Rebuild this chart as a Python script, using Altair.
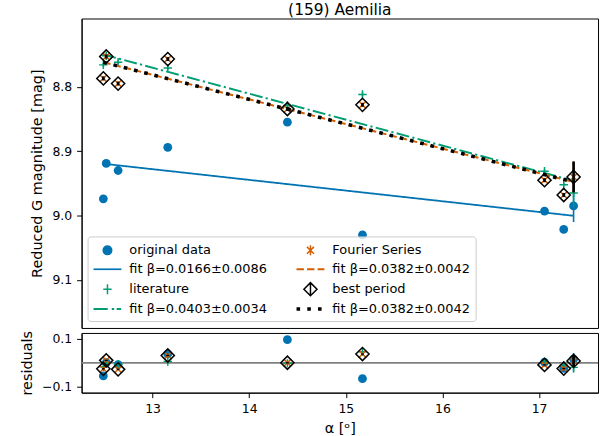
import altair as alt
import numpy as np
import pandas as pd

# Phase angle of each observation [deg]
alpha = [12.49, 12.52, 12.643, 13.157, 14.395, 15.172, 17.056, 17.255, 17.357]

# Reduced G magnitudes and uncertainties for each method
mag_original = [8.974, 8.919, 8.930, 8.894, 8.855, 9.030, 8.993, 9.0215, 8.985]
err_original = [0.004, 0.004, 0.004, 0.004, 0.004, 0.004, 0.004, 0.004, 0.025]
mag_literature = [8.766, 8.752, 8.762, 8.771, 8.829, 8.812, 8.931, 8.952, 8.965]
err_literature = [0.003, 0.003, 0.003, 0.003, 0.003, 0.003, 0.003, 0.003, 0.022]
mag_fourier = [8.787, 8.753, 8.795, 8.757, 8.8345, 8.828, 8.945, 8.968, 8.940]
err_fourier = [0.003, 0.003, 0.003, 0.003, 0.003, 0.003, 0.003, 0.003, 0.024]
mag_best = [8.787, 8.753, 8.795, 8.757, 8.8345, 8.828, 8.945, 8.968, 8.940]
err_best = [0.003, 0.003, 0.003, 0.003, 0.003, 0.003, 0.003, 0.003, 0.024]

# Linear phase coefficients of the fits
beta_original = 0.0166
beta_literature = 0.0403
beta_fourier = 0.0382
beta_best = 0.0382

BLUE = "#0173B2"
GREEN = "#029E73"
ORANGE = "#D55E00"
BLACK = "#000000"
FONT = "DejaVu Sans"


def fit_frames(mags, errs, beta):
    a = np.asarray(alpha, dtype=float)
    m = np.asarray(mags, dtype=float)
    e = np.asarray(errs, dtype=float)
    c = m.mean() - beta * a.mean()
    model = c + beta * a
    pts = pd.DataFrame({
        "alpha": a, "mag": m, "lo": m - e, "hi": m + e,
        "res": model - m, "rlo": model - m - e, "rhi": model - m + e,
    })
    ends = np.array([a.min(), a.max()])
    line = pd.DataFrame({"alpha": ends, "mag": c + beta * ends})
    return pts, line


x_scale = alt.Scale(domain=[12.265, 17.61], nice=False, zero=False)
y_top_scale = alt.Scale(domain=[8.694, 9.1745], reverse=True, nice=False, zero=False)
y_res_scale = alt.Scale(domain=[-0.124, 0.124], nice=False, zero=False)

x_top = alt.X("alpha:Q", scale=x_scale, axis=None)
x_bot = alt.X("alpha:Q", scale=x_scale,
              axis=alt.Axis(values=[13, 14, 15, 16, 17], format="d", title="α [ᵒ]"))
y_top = alt.Y("mag:Q", scale=y_top_scale,
              axis=alt.Axis(values=[8.8, 8.9, 9.0, 9.1], format=".1f",
                            title="Reduced G magnitude [mag]"))
y_res = alt.Y("res:Q", scale=y_res_scale,
              axis=alt.Axis(values=[-0.1, 0.0, 0.1], format=".1f", title="residuals"))

X_PATH = "M-1,-1L1,1M-1,1L1,-1"
PLUS_PATH = "M-1,0L1,0M0,-1L0,1"

series = [
    # mags, errs, beta, colour, shape, size, filled, bar width, dash, line width
    (mag_original, err_original, beta_original, BLUE, "circle", 78, True, 1.6, [1, 0], 1.8),
    (mag_literature, err_literature, beta_literature, GREEN, PLUS_PATH, 72, False, 1.5, [13, 3.3, 2.2, 3.3], 2.0),
    (mag_fourier, err_fourier, beta_fourier, ORANGE, X_PATH, 56, False, 1.5, [7.4, 3.2], 2.0),
    (mag_best, err_best, beta_best, BLACK, "diamond", 176, False, 2.7, [3.6, 7.0], 3.6),
]

top_layers = []
res_layers = []
zero = alt.Chart(pd.DataFrame({"res": [0.0]})).mark_rule(color="#808080", strokeWidth=1.8).encode(y=y_res)
res_layers.append(zero)

for mags, errs, beta, col, shape, size, filled, bw, dash, lw in series:
    pts, line = fit_frames(mags, errs, beta)
    base = alt.Chart(pts)
    top_layers.append(base.mark_rule(color=col, strokeWidth=bw).encode(
        x=x_top, y=alt.Y("lo:Q", scale=y_top_scale), y2="hi:Q"))
    top_layers.append(base.mark_point(shape=shape, size=size, filled=filled, color=col,
                                      opacity=1, strokeWidth=1.5).encode(x=x_top, y=y_top))
    top_layers.append(alt.Chart(line).mark_line(color=col, strokeWidth=lw, strokeDash=dash).encode(
        x=x_top, y=y_top))
    res_layers.append(base.mark_rule(color=col, strokeWidth=bw).encode(
        x=x_bot, y=alt.Y("rlo:Q", scale=y_res_scale), y2="rhi:Q"))
    res_layers.append(base.mark_point(shape=shape, size=size, filled=filled, color=col,
                                      opacity=1, strokeWidth=1.5).encode(x=x_bot, y=y_res))

# Legend entries, listed column by column (two columns)
legend_keys = ["orig", "fit_orig", "lit", "fit_lit", "four", "fit_four", "best", "fit_best"]
legend_text = ["original data", "fit β=0.0166±0.0086",
               "literature", "fit β=0.0403±0.0034",
               "Fourier Series", "fit β=0.0382±0.0042",
               "best period", "fit β=0.0382±0.0042"]
legend_fill = [BLUE, BLUE, "transparent", GREEN, "transparent", ORANGE, "transparent", BLACK]
legend_stroke = [BLUE, "transparent", GREEN, "transparent", ORANGE, "transparent", BLACK, "transparent"]
# legend glyphs: 1 unit = 7 px, handle spans x in [-1, 3], marker centred at x = 1
legend_shape = [
    "M0.386,0A0.614,0.614 0 1,0 1.614,0A0.614,0.614 0 1,0 0.386,0Z M1,-0.72L1,0.72",
    "M-1,-0.12H3V0.12H-1Z",
    "M0.4,0L1.6,0M1,-0.72L1,0.72",
    "M-1,-0.14H1.04V0.14H-1Z M1.62,-0.14H1.96V0.14H1.62Z M2.32,-0.14H2.96V0.14H2.32Z",
    "M0.5,-0.5L1.5,0.5M0.5,0.5L1.5,-0.5M1,-0.72L1,0.72",
    "M-1,-0.14H0.058V0.14H-1Z M0.514,-0.14H1.572V0.14H0.514Z M2.028,-0.14H3V0.14H2.028Z",
    "M0.06,0L1,-0.94L1.94,0L1,0.94Z M1,-0.94L1,0.94",
    "M-1,-0.26H-0.486V0.26H-1Z M0.542,-0.26H1.058V0.26H0.542Z M2.086,-0.26H2.6V0.26H2.086Z",
]
label_expr = "".join(
    f"datum.value == '{k}' ? '{t}' : " for k, t in zip(legend_keys, legend_text)
) + "''"

legend = alt.Legend(
    title=None, orient="none", legendX=6, legendY=219, columns=2, columnPadding=26,
    rowPadding=0, gridAlign="all", symbolSize=196, symbolStrokeWidth=1.5, symbolOpacity=1,
    labelFont=FONT, labelFontSize=13, labelOffset=21, labelLimit=400, labelColor="black",
    padding=5, strokeColor="#cccccc", fillColor="rgba(255,255,255,0.8)", cornerRadius=3,
    labelExpr=label_expr,
)
legend_layer = alt.Chart(pd.DataFrame({"entry": legend_keys})).mark_point(filled=True).encode(
    color=alt.Color("entry:N", scale=alt.Scale(domain=legend_keys, range=legend_fill), legend=legend),
    stroke=alt.Stroke("entry:N", scale=alt.Scale(domain=legend_keys, range=legend_stroke), legend=legend),
    shape=alt.Shape("entry:N", scale=alt.Scale(domain=legend_keys, range=legend_shape), legend=legend),
    opacity=alt.value(0),
)
top_layers.append(legend_layer)

top = alt.layer(*top_layers).properties(
    width=519, height=311,
    title=alt.TitleParams("(159) Aemilia", fontSize=15.5, fontWeight="normal", font=FONT,
                          anchor="middle", frame="group", offset=0, color="black"),
)
bottom = alt.layer(*res_layers).properties(width=519, height=60)

chart = alt.vconcat(top, bottom, spacing=0).properties(
    padding={"left": 19, "top": 1.5, "right": 4, "bottom": 5}
).configure(font=FONT).configure_view(
    stroke="black", strokeWidth=1
).configure_axis(
    grid=False, domainColor="black", tickColor="black", labelColor="black", titleColor="black",
    tickSize=5, labelPadding=5, labelFont=FONT, titleFont=FONT, labelFontSize=12.5,
    titleFontSize=14.5, titleFontWeight="normal", titlePadding=7,
)

chart.save("out.html", embed_options={"renderer": "svg", "actions": False})
